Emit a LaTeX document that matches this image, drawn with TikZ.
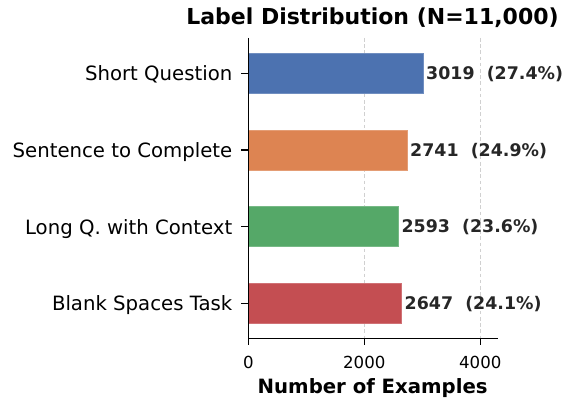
\documentclass[tikz,border=0pt]{standalone}
\usepackage{fontspec}
\setmainfont{DejaVu Sans}
\definecolor{blueC}{HTML}{4C72B0}
\definecolor{orangeC}{HTML}{DD8452}
\definecolor{greenC}{HTML}{55A868}
\definecolor{redC}{HTML}{C44E52}
\definecolor{valC}{HTML}{262626}
\definecolor{gridC}{HTML}{D0D0D0}
\begin{document}
\begin{tikzpicture}[x=1pt,y=-1pt,
  catlbl/.style={anchor=base east, inner sep=0pt, font=\fontsize{19.7}{23}\selectfont},
  vallbl/.style={anchor=base west, inner sep=0pt, font=\bfseries\fontsize{17.4}{21}\selectfont, text=valC},
  ticklbl/.style={anchor=base, inner sep=0pt, font=\fontsize{16.6}{20}\selectfont},
  gridln/.style={draw=gridC, line width=0.9pt, dash pattern=on 3.6pt off 2.6pt},
  barbox/.style={line width=0.5pt},
  axisln/.style={line width=1.2pt, black},
]
\useasboundingbox (0,0) rectangle (571,403);
% grid
\coordinate (g2a) at (364.3,38);
\coordinate (g2b) at (364.3,338.3);
\coordinate (g4a) at (480.3,38);
\coordinate (g4b) at (480.3,338.3);
\draw[gridln] (g2a) -- (g2b);
\draw[gridln] (g4a) -- (g4b);
% bars
\filldraw[barbox, fill=blueC, draw=blueC!80!white] (248.3,53.3) rectangle (423.0,93.3);
\filldraw[barbox, fill=orangeC, draw=orangeC!80!white] (248.3,130) rectangle (407.0,170);
\filldraw[barbox, fill=greenC, draw=greenC!80!white] (248.3,206.7) rectangle (398.4,246.7);
\filldraw[barbox, fill=redC, draw=redC!80!white] (248.3,283.3) rectangle (401.5,323.3);
% axes
\coordinate (otop) at (248.3,38);
\coordinate (orig) at (248.3,338.3);
\coordinate (xend) at (497.7,338.3);
\draw[axisln] (otop) -- (orig) -- (xend);
% y ticks
\foreach \yy in {73.3,150,226.7,303.3} \draw[axisln] (241.3,\yy) -- (248.3,\yy);
% x ticks
\foreach \xx in {248.3,364.3,480.3} \draw[axisln] (\xx,338.3) -- (\xx,345.3);
% category labels
\node[catlbl] (c1) at (232.5,80.8) {Short Question};
\node[catlbl] (c2) at (232.5,157.5) {Sentence to Complete};
\node[catlbl] (c3) at (232.5,234.2) {Long Q. with Context};
\node[catlbl] (c4) at (232.5,310.8) {Blank Spaces Task};
% value labels
\node[vallbl] (v1) at (426.0,79.6) {3019\ \ (27.4\%)};
\node[vallbl] (v2) at (410.0,156.3) {2741\ \ (24.9\%)};
\node[vallbl] (v3) at (401.4,233) {2593\ \ (23.6\%)};
\node[vallbl] (v4) at (404.5,309.6) {2647\ \ (24.1\%)};
% tick labels
\node[ticklbl] (t0) at (248.3,369) {0};
\node[ticklbl] (t2) at (364.3,369) {2000};
\node[ticklbl] (t4) at (480.3,369) {4000};
% title and axis label
\node[anchor=base, inner sep=0pt, font=\bfseries\fontsize{22}{26}\selectfont] (title) at (372.5,25) {Label Distribution (N=11,000)};
\node[anchor=base, inner sep=0pt, font=\bfseries\fontsize{19.7}{24}\selectfont] (xlabel) at (372.7,393.3) {Number of Examples};
\end{tikzpicture}
\end{document}
